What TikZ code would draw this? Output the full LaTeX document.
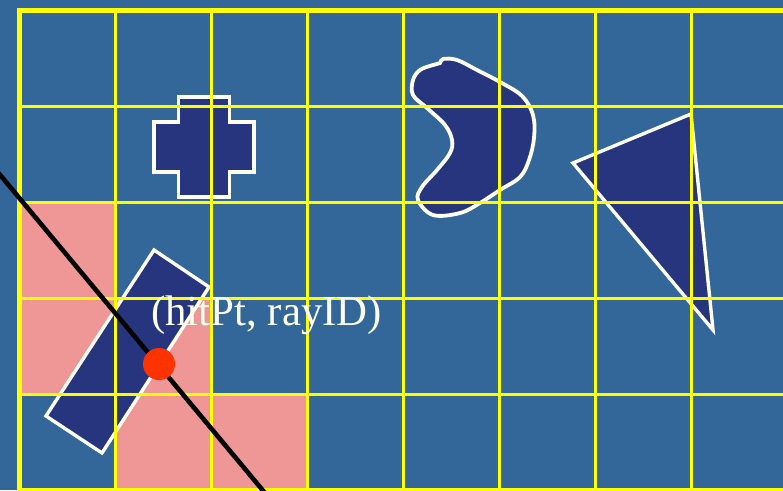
\documentclass[tikz,border=0pt]{standalone}
\usepackage{fontspec}
\setmainfont{Liberation Serif}
\usetikzlibrary{positioning,calc}
\definecolor{gridbg}{HTML}{336699}
\definecolor{gridline}{HTML}{FFFF00}
\definecolor{cellpink}{HTML}{EF9696}
\definecolor{objblue}{HTML}{27357E}
\definecolor{hitred}{HTML}{FF3300}
\definecolor{edgewhite}{HTML}{FFFFF2}

\begin{document}
\begin{tikzpicture}[x=1pt, y=-1pt,
  object/.style={fill=objblue, draw=edgewhite, line width=3.4pt, line join=miter},
  gridrule/.style={draw=gridline, line width=3.2pt},
  ray/.style={draw=black, line width=4.6pt},
  hitdot/.style={circle, fill=hitred, minimum size=32pt, inner sep=0pt},
  label/.style={text=edgewhite, inner sep=0pt, font=\fontsize{42.8}{48}\selectfont}]
  \useasboundingbox (0,0) rectangle (783,490);
  \clip (0,0) rectangle (783,490);
  \fill[gridbg] (0,0) rectangle (783,490);
  % cells crossed by the ray
  \foreach \c/\r in {0/2, 0/3, 1/3, 1/4, 2/4}
    \fill[cellpink] (19.5+96*\c, 10.5+96*\r) rectangle ++(96,96);
  % objects
  \draw[object] (178.5,97) -- (229.5,97) -- (229.5,122) -- (254,122) -- (254,172)
    -- (229.5,172) -- (229.5,197) -- (178.5,197) -- (178.5,172) -- (154,172)
    -- (154,122) -- (178.5,122) -- cycle;
  \draw[object, line width=3.8pt] plot[smooth cycle, tension=0.6] coordinates {
    (443,59) (457,60) (477,70) (500,82) (522,96) (533,115) (534,138) (529,160)
    (520,177) (500,190) (480,203) (460,213) (433,215) (418,200) (422,187)
    (437,170) (450,153) (452,140) (445,125) (427,108) (413,95) (413,80)
    (420,70) (433,65) (440,63)};
  \draw[object] (573,163) -- (691,114) -- (713,330) -- cycle;
  \draw[object] (154,250) -- (209,287) -- (102,453) -- (46,416) -- cycle;
  % grid
  \foreach \i in {1,...,7}
    \draw[gridrule] (19.5+96*\i, 10.5) -- (19.5+96*\i, 490.5);
  \foreach \j in {1,...,4}
    \draw[gridrule] (19.5, 10.5+96*\j) -- (787.5, 10.5+96*\j);
  \draw[gridrule, line width=5.8pt] (19.5,10.5) rectangle (787.5,490.5);
  % ray and hit
  \coordinate (rayin) at (-4,170);
  \coordinate (rayout) at (265,493);
  \draw[ray] (rayin) -- (rayout);
  \node[hitdot] (hit) at (159,364) {};
  \node[label, anchor=base west] (hitlabel) at (151,325) {(hitPt, rayID)};
\end{tikzpicture}
\end{document}
